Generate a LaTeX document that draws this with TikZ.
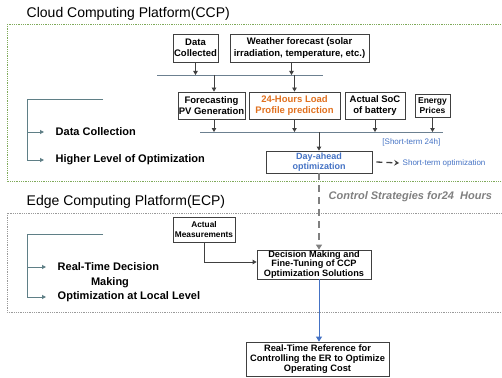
\documentclass[tikz,border=0pt]{standalone}
\usepackage{fontspec}
\setmainfont{Liberation Sans}
\usetikzlibrary{arrows.meta}

\definecolor{boxline}{HTML}{404040}
\definecolor{busline}{HTML}{6C8090}
\definecolor{bracket}{HTML}{5F7F86}
\definecolor{cloudgreen}{HTML}{7FAA5A}
\definecolor{edgegray}{HTML}{9A9A9A}
\definecolor{loadorange}{HTML}{E0701E}
\definecolor{optblue}{HTML}{4472C4}

\begin{document}
\begin{tikzpicture}[x=1pt, y=-1pt, line width=0.8pt,
	main/.style = {draw=boxline, align=center, inner sep=0pt,
		font=\bfseries\fontsize{9.5}{11.5}\selectfont},
	arr/.style = {-{Triangle[length=4pt,width=4.5pt]}, boxline},
	bus/.style = {busline, line width=0.8pt},
	brk/.style = {bracket, line width=1pt},
	brkarr/.style = {brk, -{Triangle[length=4pt,width=4pt]}},
	lbl/.style = {anchor=west, font=\bfseries\fontsize{11}{13}\selectfont},
	title/.style = {anchor=west, font=\fontsize{14}{16}\selectfont}]

	\useasboundingbox (0,0) rectangle (502,377);

	% platform frames
	\draw[cloudgreen, densely dotted, line width=0.8pt] (7,24) rectangle (510,181);
	\draw[edgegray, densely dotted, line width=0.8pt] (7,213) rectangle (510,312);
	\node[title] (ccp) at (23,14) {Cloud Computing Platform(CCP)};
	\node[title] (ecp) at (23,202) {Edge Computing Platform(ECP)};

	% cloud side
	\node[main, minimum width=45pt, minimum height=28pt] (data) at (195.5,48) {Data\\Collected};
	\node[main, minimum width=139pt, minimum height=28pt] (weather) at (299.5,48) {Weather forecast (solar\\irradiation, temperature, etc.)};
	\node[main, minimum width=67pt, minimum height=27pt] (pv) at (211.5,105.5) {Forecasting\\PV Generation};
	\node[main, minimum width=91pt, minimum height=27pt, text=loadorange] (load) at (294.5,105.5) {24-Hours Load\\Profile prediction};
	\node[main, minimum width=60pt, minimum height=27pt] (soc) at (375,105.5) {Actual SoC\\of battery};
	\node[main, minimum width=35pt, minimum height=23pt, font=\bfseries\fontsize{8.5}{10.5}\selectfont] (price) at (432.5,105.5) {Energy\\Prices};
	\node[main, minimum width=106pt, minimum height=22pt, text=optblue, font=\bfseries\fontsize{9}{10.5}\selectfont] (dayahead) at (319,162) {Day-ahead\\optimization};

	\coordinate (busAl) at (157,75);
	\coordinate (busAr) at (323,75);
	\coordinate (busBl) at (200,132);
	\coordinate (busBr) at (443,132);
	\draw[bus] (busAl) -- (busAr);
	\draw[bus] (busBl) -- (busBr);

	\draw[arr] (data.south) -- (data.south |- busAl);
	\draw[arr] ([xshift=-8pt]weather.south) -- ([xshift=-8pt]weather.south |- busAl);
	\draw[arr] ([xshift=2.5pt]pv.north |- busAl) -- ([xshift=2.5pt]pv.north);
	\draw[arr] (load.north |- busAl) -- (load.north);
	\draw[arr] (pv.south) ++(2.5pt,0) -- ([xshift=2.5pt]pv.south |- busBl);
	\draw[arr] (load.south) -- (load.south |- busBl);
	\draw[arr] (soc.south) -- (soc.south |- busBl);
	\draw[arr] (price.south) -- (price.south |- busBl);
	\draw[arr] (dayahead.north |- busBl) -- (dayahead.north);

	\node[anchor=east, text=optblue, font=\fontsize{8}{10}\selectfont] (shortlbl) at (444,142) {[Short-term 24h]};
	\node[anchor=west, text=optblue, font=\fontsize{8}{10}\selectfont] (shortopt) at (399,163) {Short-term optimization};
	\draw[boxline, line width=1.3pt, dash pattern=on 6pt off 4pt,
		-{Stealth[length=5pt,width=6pt,inset=2pt]}] ([xshift=4pt]dayahead.east) -- (shortopt.west);

	% left bracket, cloud
	\coordinate (ctop) at (103,99);
	\coordinate (ccorner) at (27,99);
	\node[lbl] (collect) at (52,132) {Data Collection};
	\node[lbl] (higher) at (52,160) {Higher Level of Optimization};
	\draw[brk] (ctop) -- (ccorner) -- (ccorner |- higher);
	\draw[brkarr] (ccorner |- collect) -- ([xshift=-8pt]collect.west);
	\draw[brkarr] (ccorner |- higher) -- ([xshift=-8pt]higher.west);

	% edge side
	\node[main, minimum width=62pt, minimum height=25pt, font=\bfseries\fontsize{8.3}{10}\selectfont] (meas) at (204,229.5) {Actual\\Measurements};
	\node[main, minimum width=114pt, minimum height=29pt, font=\bfseries\fontsize{9.2}{9.4}\selectfont] (decision) at (314,264.5) {Decision Making and\\Fine-Tuning of CCP\\Optimization Solutions};
	\node[main, minimum width=143pt, minimum height=34pt, font=\bfseries\fontsize{9.3}{10}\selectfont] (ref) at (317.5,359) {Real-Time Reference for\\Controlling the ER to Optimize\\Operating Cost};

	\draw[gray, line width=1.3pt, dash pattern=on 7pt off 5pt, -{Triangle[length=5pt,width=6pt]}]
		(dayahead.south) -- (dayahead.south |- decision.north);
	\node[anchor=west, text=gray, font=\bfseries\itshape\fontsize{11}{13}\selectfont] (ctrl) at (325,197) {Control Strategies for24~ Hours};
	\draw[arr] (meas.south) |- ([yshift=2.5pt]decision.west);
	\draw[optblue, line width=0.9pt, -{Triangle[length=5pt,width=6pt]}]
		(dayahead.south |- decision.south) -- (dayahead.south |- ref.north);

	% left bracket, edge
	\coordinate (etop) at (103,234);
	\coordinate (ecorner) at (27,234);
	\node[lbl] (rtdec) at (54,267) {Real-Time Decision};
	\node[font=\bfseries\fontsize{11}{13}\selectfont] (making) at (110,283) {Making};
	\node[lbl] (localopt) at (54,297) {Optimization at Local Level};
	\draw[brk] (etop) -- (ecorner) -- (ecorner |- localopt);
	\draw[brkarr] (ecorner |- rtdec) -- ([xshift=-8pt]rtdec.west);
	\draw[brkarr] (ecorner |- localopt) -- ([xshift=-8pt]localopt.west);
\end{tikzpicture}
\end{document}
